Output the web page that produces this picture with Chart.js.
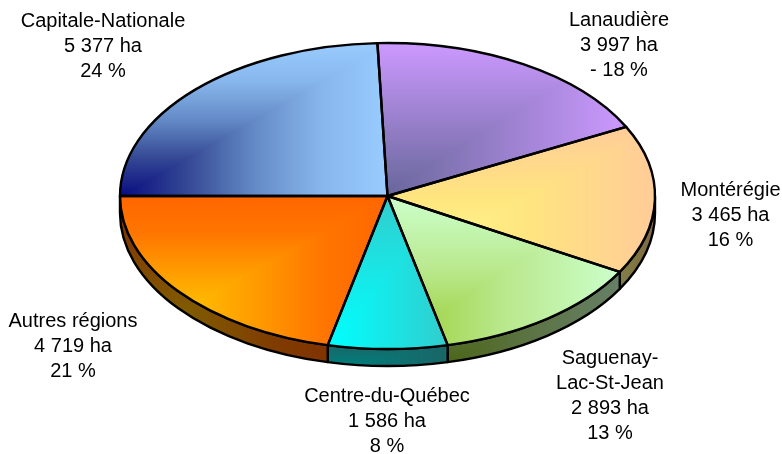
<!DOCTYPE html>
<html lang="fr">
<head>
<meta charset="utf-8">
<title>Superficie par région</title>
<script src="https://cdn.jsdelivr.net/npm/chart.js@4"></script>
<style>
    html, body { margin: 0; padding: 0; background: #fff; }
    canvas { display: block; }
</style>
</head>
<body>
<canvas id="pieChart" width="782" height="454"></canvas>
<script>
const categories = ['Capitale-Nationale', 'Lanaudière', 'Montérégie', 'Saguenay-\nLac-St-Jean', 'Centre-du-Québec', 'Autres régions'];
const hectares = [5377, 3997, 3465, 2893, 1586, 4719];
const percentLabels = ['24 %', '- 18 %', '16 %', '13 %', '8 %', '21 %'];

// Colour ramp of each slice, evenly spaced from the gradient's corner to its far side
const sliceRamps = [
    [[8, 12, 128], [52, 72, 148], [100, 138, 198], [135, 182, 236], [153, 204, 255]],
    [[102, 102, 153], [153, 128, 204], [204, 153, 255]],
    [[255, 255, 153], [255, 230, 126], [255, 204, 153]],
    [[153, 204, 51], [185, 232, 140], [204, 255, 204]],
    [[0, 255, 255], [25, 230, 230], [51, 204, 204]],
    [[255, 204, 0], [255, 190, 0], [255, 156, 0], [255, 118, 0], [255, 102, 0]]
];
const labelCenters = [[103, 21], [619, 20], [730.5, 190], [610, 358], [387, 396], [73, 321]];

const WIDTH = 782, HEIGHT = 454;
const CX = 387.5, CY = 196, RX = 267.5, RY = 153, DEPTH = 17;
const SQUASH = RY / RX;
const START_ANGLE = Math.PI; // first slice starts at 9 o'clock
const TURN = Math.PI * 2;

const total = hectares.reduce((sum, v) => sum + v, 0);
const sliceAngles = [];
hectares.reduce((angle, v) => {
    const end = angle + v / total * TURN;
    sliceAngles.push([angle, end]);
    return end;
}, START_ANGLE);

function pointAt(a, extraY) {
    return [CX + RX * Math.cos(a), CY + RY * Math.sin(a) + (extraY || 0)];
}

// Points on the ellipse that can touch the bounding box between two angles
function ellipsePoints(a0, a1, extraY) {
    const pts = [pointAt(a0, extraY), pointAt(a1, extraY)];
    for (let k = 0; k <= 12; k++) {
        const a = k * Math.PI / 2;
        if (a > a0 && a < a1) pts.push(pointAt(a, extraY));
    }
    return pts;
}

function boxOf(pts) {
    const xs = pts.map(p => p[0]);
    const ys = pts.map(p => p[1]);
    return { x0: Math.min(...xs), x1: Math.max(...xs), y0: Math.min(...ys), y1: Math.max(...ys) };
}

function rampColor(ramp, t, channel) {
    const pos = t * (ramp.length - 1);
    const i = Math.min(Math.floor(pos), ramp.length - 2);
    return ramp[i][channel] + (ramp[i + 1][channel] - ramp[i][channel]) * (pos - i);
}

// "From corner" gradient: rectangular fronts spreading from the bottom left of the box
function cornerPattern(ctx, box, ramp, dim) {
    const off = document.createElement('canvas');
    off.width = WIDTH;
    off.height = HEIGHT;
    const octx = off.getContext('2d');
    const img = octx.createImageData(WIDTH, HEIGHT);
    for (let y = 0; y < HEIGHT; y++) {
        for (let x = 0; x < WIDTH; x++) {
            const tx = (x - box.x0) / (box.x1 - box.x0);
            const ty = (box.y1 - y) / (box.y1 - box.y0);
            const t = Math.min(1, Math.max(0, tx, ty));
            const i = (y * WIDTH + x) * 4;
            for (let c = 0; c < 3; c++) {
                img.data[i + c] = rampColor(ramp, t, c) * dim;
            }
            img.data[i + 3] = 255;
        }
    }
    octx.putImageData(img, 0, 0);
    return ctx.createPattern(off, 'no-repeat');
}

const ctx = document.getElementById('pieChart').getContext('2d');

const topPatterns = sliceAngles.map(([a0, a1], i) => {
    const box = boxOf(ellipsePoints(a0, a1).concat([[CX, CY]]));
    const pattern = cornerPattern(ctx, box, sliceRamps[i], 1);
    // the arcs are filled under the squash transform, so cancel it for the pattern
    pattern.setTransform(new DOMMatrix().translate(0, CY).scale(1, 1 / SQUASH).translate(0, -CY));
    return pattern;
});

// Only the front half of the rim shows (angles are one turn on from 0 here)
function visibleWall(a0, a1) {
    const from = Math.max(a0, TURN);
    const to = Math.min(a1, TURN + Math.PI);
    return to > from ? [from, to] : null;
}

const wallPatterns = sliceAngles.map(([a0, a1], i) => {
    const wall = visibleWall(a0, a1);
    if (!wall) return null;
    const box = boxOf(ellipsePoints(wall[0], wall[1]).concat(ellipsePoints(wall[0], wall[1], DEPTH)));
    return cornerPattern(ctx, box, sliceRamps[i], 0.5);
});

const pie3d = {
    id: 'pie3d',
    beforeDatasetsDraw(chart) {
        const c = chart.ctx;
        c.lineWidth = 2.4;
        c.strokeStyle = '#000';
        c.lineJoin = 'round';
        chart.getDatasetMeta(0).data.forEach((arc, i) => {
            const wall = visibleWall(sliceAngles[i][0], sliceAngles[i][1]);
            if (!wall) return;
            c.beginPath();
            c.ellipse(arc.x, arc.y, RX, RY, 0, wall[0], wall[1]);
            c.ellipse(arc.x, arc.y + DEPTH, RX, RY, 0, wall[1], wall[0], true);
            c.closePath();
            c.fillStyle = wallPatterns[i];
            c.fill();
            c.stroke();
        });
        c.save();
        c.translate(0, CY);
        c.scale(1, SQUASH);
        c.translate(0, -CY);
    },
    afterDatasetsDraw(chart) {
        const c = chart.ctx;
        c.restore();
        // outlines are stroked after the squash so the line keeps an even width
        c.lineWidth = 2.4;
        c.strokeStyle = '#000';
        c.lineJoin = 'round';
        chart.getDatasetMeta(0).data.forEach(arc => {
            c.beginPath();
            c.moveTo(arc.x, arc.y);
            c.ellipse(arc.x, arc.y, RX, RY, 0, arc.startAngle, arc.endAngle);
            c.closePath();
            c.stroke();
        });

        c.fillStyle = '#000';
        c.font = '20px "Liberation Sans"';
        c.textAlign = 'center';
        c.textBaseline = 'middle';
        categories.forEach((name, i) => {
            const ha = String(hectares[i]).replace(/\B(?=(\d{3})+$)/g, ' ') + ' ha';
            const lines = name.split('\n').concat([ha, percentLabels[i]]);
            lines.forEach((line, n) => {
                c.fillText(line, labelCenters[i][0], labelCenters[i][1] + n * 25.3);
            });
        });
    }
};

new Chart(ctx, {
    type: 'pie',
    data: {
        labels: categories,
        datasets: [{
            data: hectares,
            backgroundColor: topPatterns,
            borderWidth: 0,
            hoverOffset: 0
        }]
    },
    options: {
        responsive: false,
        animation: false,
        rotation: 270,
        radius: RX,
        events: [],
        layout: { padding: { right: WIDTH - 2 * CX, bottom: HEIGHT - 2 * CY } },
        plugins: {
            legend: { display: false },
            tooltip: { enabled: false }
        }
    },
    plugins: [pie3d]
});
</script>
</body>
</html>
